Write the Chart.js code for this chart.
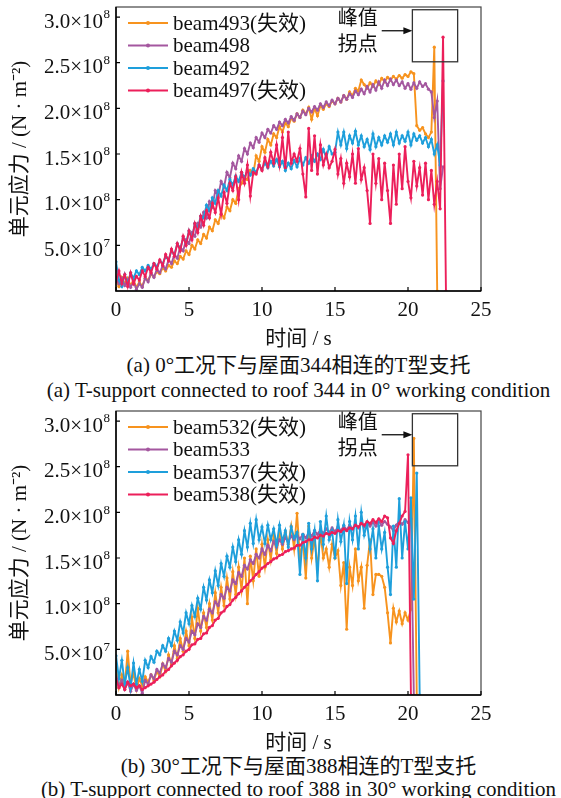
<!DOCTYPE html>
<html>
<head>
<meta charset="utf-8">
<script src="https://cdn.jsdelivr.net/npm/chart.js@4.4.0/dist/chart.umd.min.js"></script>
<style>
  body { margin: 0; background: #fff; width: 561px; height: 798px; position: relative; overflow: hidden; }
  canvas { position: absolute; left: 0; }
  .cap { position: absolute; left: 0; width: 597px; text-align: center; white-space: nowrap;
         font-family: "Liberation Serif", "Noto Sans CJK SC", serif; font-size: 21px; line-height: 1; color: #111; }
</style>
</head>
<body>
<canvas id="chartA" width="561" height="350" style="top:0"></canvas>
<canvas id="chartB" width="561" height="350" style="top:404px"></canvas>
<div class="cap" style="top:355px">(a) 0°工况下与屋面344相连的T型支托</div>
<div class="cap" style="top:380px">(a) T-support connected to roof 344 in 0° working condition</div>
<div class="cap" style="top:756px">(b) 30°工况下与屋面388相连的T型支托</div>
<div class="cap" style="top:779px">(b) T-support connected to roof 388 in 30° working condition</div>
<script>
// temps (s), pas de 0,2 s
const time = [
  0,0.2,0.4,0.6,0.8,1,1.2,1.4,1.6,1.8,
  2,2.2,2.4,2.6,2.8,3,3.2,3.4,3.6,3.8,
  4,4.2,4.4,4.6,4.8,5,5.2,5.4,5.6,5.8,
  6,6.2,6.4,6.6,6.8,7,7.2,7.4,7.6,7.8,
  8,8.2,8.4,8.6,8.8,9,9.2,9.4,9.6,9.8,
  10,10.2,10.4,10.6,10.8,11,11.2,11.4,11.6,11.8,
  12,12.2,12.4,12.6,12.8,13,13.2,13.4,13.6,13.8,
  14,14.2,14.4,14.6,14.8,15,15.2,15.4,15.6,15.8,
  16,16.2,16.4,16.6,16.8,17,17.2,17.4,17.6,17.8,
  18,18.2,18.4,18.6,18.8,19,19.2,19.4,19.6,19.8,
  20,20.2,20.4,20.6,20.8,21,21.2,21.4,21.6,21.8,
  22,22.2,22.4,22.6
];

// contraintes en 10^6 N/m2 — (a) toit 344, 0°
const beam493 = [
  12,5,15,8,14,6,12,4,10,5,
  14,12,18,16,21,19,25,22,28,26,
  33,30,38,35,44,40,50,46,56,52,
  62,58,70,66,78,74,85,80,92,88,
  100,96,112,118,124,122,132,128,148,142,
  158,152,166,160,172,168,180,174,184,180,
  189,186,194,190,198,194,201,188,200,192,
  203,199,205,202,208,205,211,207,214,210,
  218,214,222,219,231,226,222,228,224,230,
  226,233,229,234,231,235,232,236,233,237,
  235,240,238,181,176,179,172,168,174,267,
  0
];
const beam498 = [
  15,8,14,6,12,4,10,2,8,4,
  14,10,20,15,24,20,28,24,34,30,
  40,36,48,44,56,52,64,60,74,70,
  86,80,98,92,110,104,120,114,130,124,
  140,134,148,142,156,150,162,157,168,163,
  173,168,177,173,181,177,185,181,188,184,
  191,187,194,190,197,193,200,196,202,198,
  205,201,207,203,209,205,211,207,214,210,
  216,212,219,215,221,216,224,218,226,220,
  229,222,231,225,232,226,231,225,229,222,
  227,221,228,222,229,224,227,221,218,190,
  208,112,136
];
const beam492 = [
  32,12,5,18,8,20,14,22,18,26,
  22,28,24,30,27,33,30,38,34,44,
  40,52,46,58,52,66,58,74,68,82,
  80,94,88,102,96,110,104,116,110,122,
  116,126,120,130,124,132,127,134,130,138,
  133,140,135,142,137,144,136,142,132,140,
  134,143,136,145,138,146,140,148,142,150,
  144,155,146,158,150,152,174,160,174,156,
  170,162,175,160,170,158,166,155,172,158,
  168,160,170,163,172,160,174,162,170,164,
  174,160,172,165,170,162,168,158,166,150,
  160,138,230
];
const beam497 = [
  10,22,8,18,5,20,8,16,12,22,
  16,26,20,30,24,34,28,40,33,46,
  38,52,44,60,50,66,56,74,64,82,
  72,88,80,96,86,102,84,108,96,118,
  110,125,100,130,118,138,104,130,128,138,
  132,146,136,152,140,160,138,168,135,174,
  140,150,142,156,128,103,178,132,170,128,
  160,138,150,135,142,155,128,145,118,140,
  125,150,118,156,122,135,110,74,150,118,
  145,100,140,110,74,138,95,150,112,158,
  120,102,142,115,135,105,140,100,132,95,
  120,90,278,0
];

// (b) toit 388, 30°
const beam532 = [
  30,8,22,10,48,12,24,6,18,10,
  20,14,22,16,26,20,34,26,44,34,
  54,40,62,48,70,54,85,62,95,70,
  90,74,100,82,112,90,118,98,128,105,
  135,110,140,115,150,100,152,125,160,130,
  165,140,170,148,175,155,180,160,178,165,
  185,160,199,150,170,128,185,150,172,138,
  178,150,160,140,165,150,158,120,145,72,
  140,120,160,125,140,95,142,170,110,132,
  132,130,118,90,57,95,80,92,78,90,
  82,94,281,0
];
const beam533 = [
  20,10,16,6,14,4,12,5,10,2,
  16,12,22,18,28,24,34,30,40,36,
  48,44,54,50,62,58,70,66,78,74,
  86,82,94,90,102,98,110,106,118,114,
  126,122,134,130,142,138,148,144,154,150,
  160,154,164,158,168,162,170,165,172,168,
  174,170,175,171,176,172,178,174,180,176,
  181,177,182,178,183,179,184,180,185,181,
  186,182,187,183,188,184,188,185,189,185,
  190,186,190,187,184,180,186,190,187,192,
  189,193,0
];
const beam537 = [
  43,18,38,12,30,8,35,12,28,15,
  38,30,42,36,48,44,54,48,62,54,
  70,60,80,68,90,78,98,86,106,94,
  118,104,126,112,136,120,144,130,152,140,
  162,146,170,154,180,162,188,166,192,170,
  184,166,186,170,182,164,186,168,180,162,
  184,172,178,132,176,150,188,160,180,125,
  190,165,196,170,180,150,192,168,186,122,
  190,170,196,160,200,175,188,160,182,150,
  185,160,178,140,110,185,140,215,150,190,
  160,216,105,243,0
];
const beam538 = [
  18,8,12,6,14,10,12,8,10,6,
  8,10,12,14,17,20,22,26,28,32,
  35,38,42,44,48,50,55,56,61,62,
  67,68,74,76,82,84,90,92,97,99,
  104,107,111,114,118,121,125,128,132,135,
  139,141,144,146,149,150,153,154,157,158,
  160,161,164,164,167,168,170,170,173,172,
  175,174,177,176,178,177,180,179,182,180,
  183,182,186,184,188,186,190,188,192,189,
  193,190,196,194,172,166,180,188,196,201,
  263,0
];

const xTickValues = [0, 5, 10, 15, 20, 25];
const yTickValues = [50, 100, 150, 200, 250, 300];

const ORANGE = "#F7931E", PURPLE = "#A4579F", BLUE = "#1E9FDB", RED = "#EC1F5A";
const SERIF = '"Liberation Serif", "Noto Sans CJK SC", serif';

function series(label, color, vals, order) {
  return {
    label: label,
    data: vals.map((v, i) => ({ x: time[i], y: v })),
    borderColor: color,
    backgroundColor: color,
    pointBackgroundColor: color,
    borderWidth: 1.9,
    pointRadius: 1.6,
    pointBorderWidth: 0,
    tension: 0,
    order: order,
  };
}

// cadre, graduations intérieures, étiquettes 10^n, légende et annotation
const decor = {
  id: "decor",
  afterDraw(chart) {
    const { ctx, chartArea: a, scales: { x, y } } = chart;
    ctx.save();
    ctx.strokeStyle = "#444";
    ctx.lineWidth = 1.2;
    ctx.strokeRect(a.left, a.top, a.right - a.left, a.bottom - a.top);
    ctx.strokeStyle = "#000";
    ctx.lineWidth = 1.5;
    ctx.beginPath();
    ctx.moveTo(a.left, a.top);
    ctx.lineTo(a.left, a.bottom);
    ctx.lineTo(a.right, a.bottom);
    ctx.stroke();

    ctx.lineWidth = 1.2;
    ctx.beginPath();
    xTickValues.forEach(v => {
      const px = x.getPixelForValue(v);
      ctx.moveTo(px, a.bottom);
      ctx.lineTo(px, a.bottom - 4);
    });
    yTickValues.forEach(v => {
      const py = y.getPixelForValue(v);
      ctx.moveTo(a.left, py);
      ctx.lineTo(a.left + 4, py);
    });
    ctx.stroke();

    // étiquettes de l'axe y
    ctx.fillStyle = "#111";
    yTickValues.forEach(v => {
      const pa = v * 1e6;
      const e = Math.floor(Math.log10(pa) + 1e-9);
      const base = (pa / Math.pow(10, e)).toFixed(1) + "×10";
      const py = y.getPixelForValue(v);
      ctx.font = "13px " + SERIF;
      const we = ctx.measureText(String(e)).width;
      ctx.textAlign = "left";
      ctx.textBaseline = "middle";
      ctx.fillText(String(e), 110 - we, py - 2);
      ctx.font = "21px " + SERIF;
      ctx.textAlign = "right";
      ctx.fillText(base, 110 - we - 0.5, py + 5);
    });

    // légende
    chart.data.datasets.forEach((ds, i) => {
      const ly = a.top + 16 + i * 22.5;
      ctx.strokeStyle = ds.borderColor;
      ctx.lineWidth = 2;
      ctx.beginPath();
      ctx.moveTo(a.left + 12, ly);
      ctx.lineTo(a.left + 52, ly);
      ctx.stroke();
      ctx.fillStyle = ds.borderColor;
      ctx.beginPath();
      ctx.arc(a.left + 32, ly, 2, 0, Math.PI * 2);
      ctx.fill();
      ctx.fillStyle = "#111";
      ctx.font = "21px " + SERIF;
      ctx.textAlign = "left";
      ctx.textBaseline = "middle";
      ctx.fillText(ds.label, a.left + 57, ly + 1);
    });

    // annotation « 峰值拐点 »
    const n = chart.options.plugins.decor;
    const bx0 = x.getPixelForValue(n.box[0]), bx1 = x.getPixelForValue(n.box[1]);
    const by0 = y.getPixelForValue(n.box[3]), by1 = y.getPixelForValue(n.box[2]);
    ctx.strokeStyle = "#333";
    ctx.lineWidth = 1.3;
    ctx.strokeRect(bx0, by0, bx1 - bx0, by1 - by0);
    const ay = y.getPixelForValue(n.arrowY);
    const ax0 = x.getPixelForValue(n.arrowX);
    ctx.strokeStyle = "#111";
    ctx.lineWidth = 1.3;
    ctx.beginPath();
    ctx.moveTo(ax0, ay);
    ctx.lineTo(bx0 - 7, ay);
    ctx.stroke();
    ctx.fillStyle = "#111";
    ctx.beginPath();
    ctx.moveTo(bx0, ay);
    ctx.lineTo(bx0 - 9, ay - 3.5);
    ctx.lineTo(bx0 - 9, ay + 3.5);
    ctx.closePath();
    ctx.fill();
    ctx.font = "20px " + SERIF;
    ctx.textAlign = "center";
    ctx.textBaseline = "middle";
    const tx = x.getPixelForValue(n.textX);
    n.text.forEach((t, i) => ctx.fillText(t, tx, y.getPixelForValue(n.textY[i])));
    ctx.restore();
  },
};

function makeChart(id, datasets) {
  return new Chart(document.getElementById(id), {
    type: "line",
    data: { datasets: datasets },
    options: {
      responsive: false,
      maintainAspectRatio: false,
      animation: false,
      devicePixelRatio: 1,
      layout: { padding: { top: 7, right: 80, bottom: 0, left: 0 } },
      plugins: {
        legend: { display: false },
        tooltip: { enabled: false },
        decor: {
          box: [20.3, 23.4, 251, 308],
          arrowX: 18.2,
          arrowY: 285,
          textX: 16.55,
          textY: [297, 269],
          text: ["峰值", "拐点"],
        },
      },
      scales: {
        x: {
          type: "linear",
          min: 0,
          max: 25,
          afterBuildTicks: s => { s.ticks = xTickValues.map(v => ({ value: v })); },
          afterFit: s => { s.height = 59; },
          grid: { display: false, drawTicks: false },
          border: { display: false },
          ticks: { color: "#111", padding: 7, font: { family: SERIF, size: 21 } },
          title: {
            display: true,
            text: "时间 / s",
            color: "#111",
            font: { family: SERIF, size: 21, lineHeight: 1.2 },
            padding: { top: 0, bottom: -2 },
          },
        },
        y: {
          min: 0,
          max: 311,
          afterBuildTicks: s => { s.ticks = yTickValues.map(v => ({ value: v })); },
          afterFit: s => { s.width = 116; },
          grid: { display: false, drawTicks: false },
          border: { display: false },
          ticks: { display: false },
          title: {
            display: true,
            text: "单元应力 / (N · m⁻²)",
            color: "#111",
            font: { family: SERIF, size: 21, lineHeight: 1.2 },
            padding: { top: 8, bottom: 0 },
          },
        },
      },
    },
    plugins: [decor],
  });
}

makeChart("chartA", [
  series("beam493(失效)", ORANGE, beam493, 3),
  series("beam498", PURPLE, beam498, 2),
  series("beam492", BLUE, beam492, 1),
  series("beam497(失效)", RED, beam497, 0),
]);

makeChart("chartB", [
  series("beam532(失效)", ORANGE, beam532, 3),
  series("beam533", PURPLE, beam533, 2),
  series("beam537(失效)", BLUE, beam537, 1),
  series("beam538(失效)", RED, beam538, 0),
]);
</script>
</body>
</html>
